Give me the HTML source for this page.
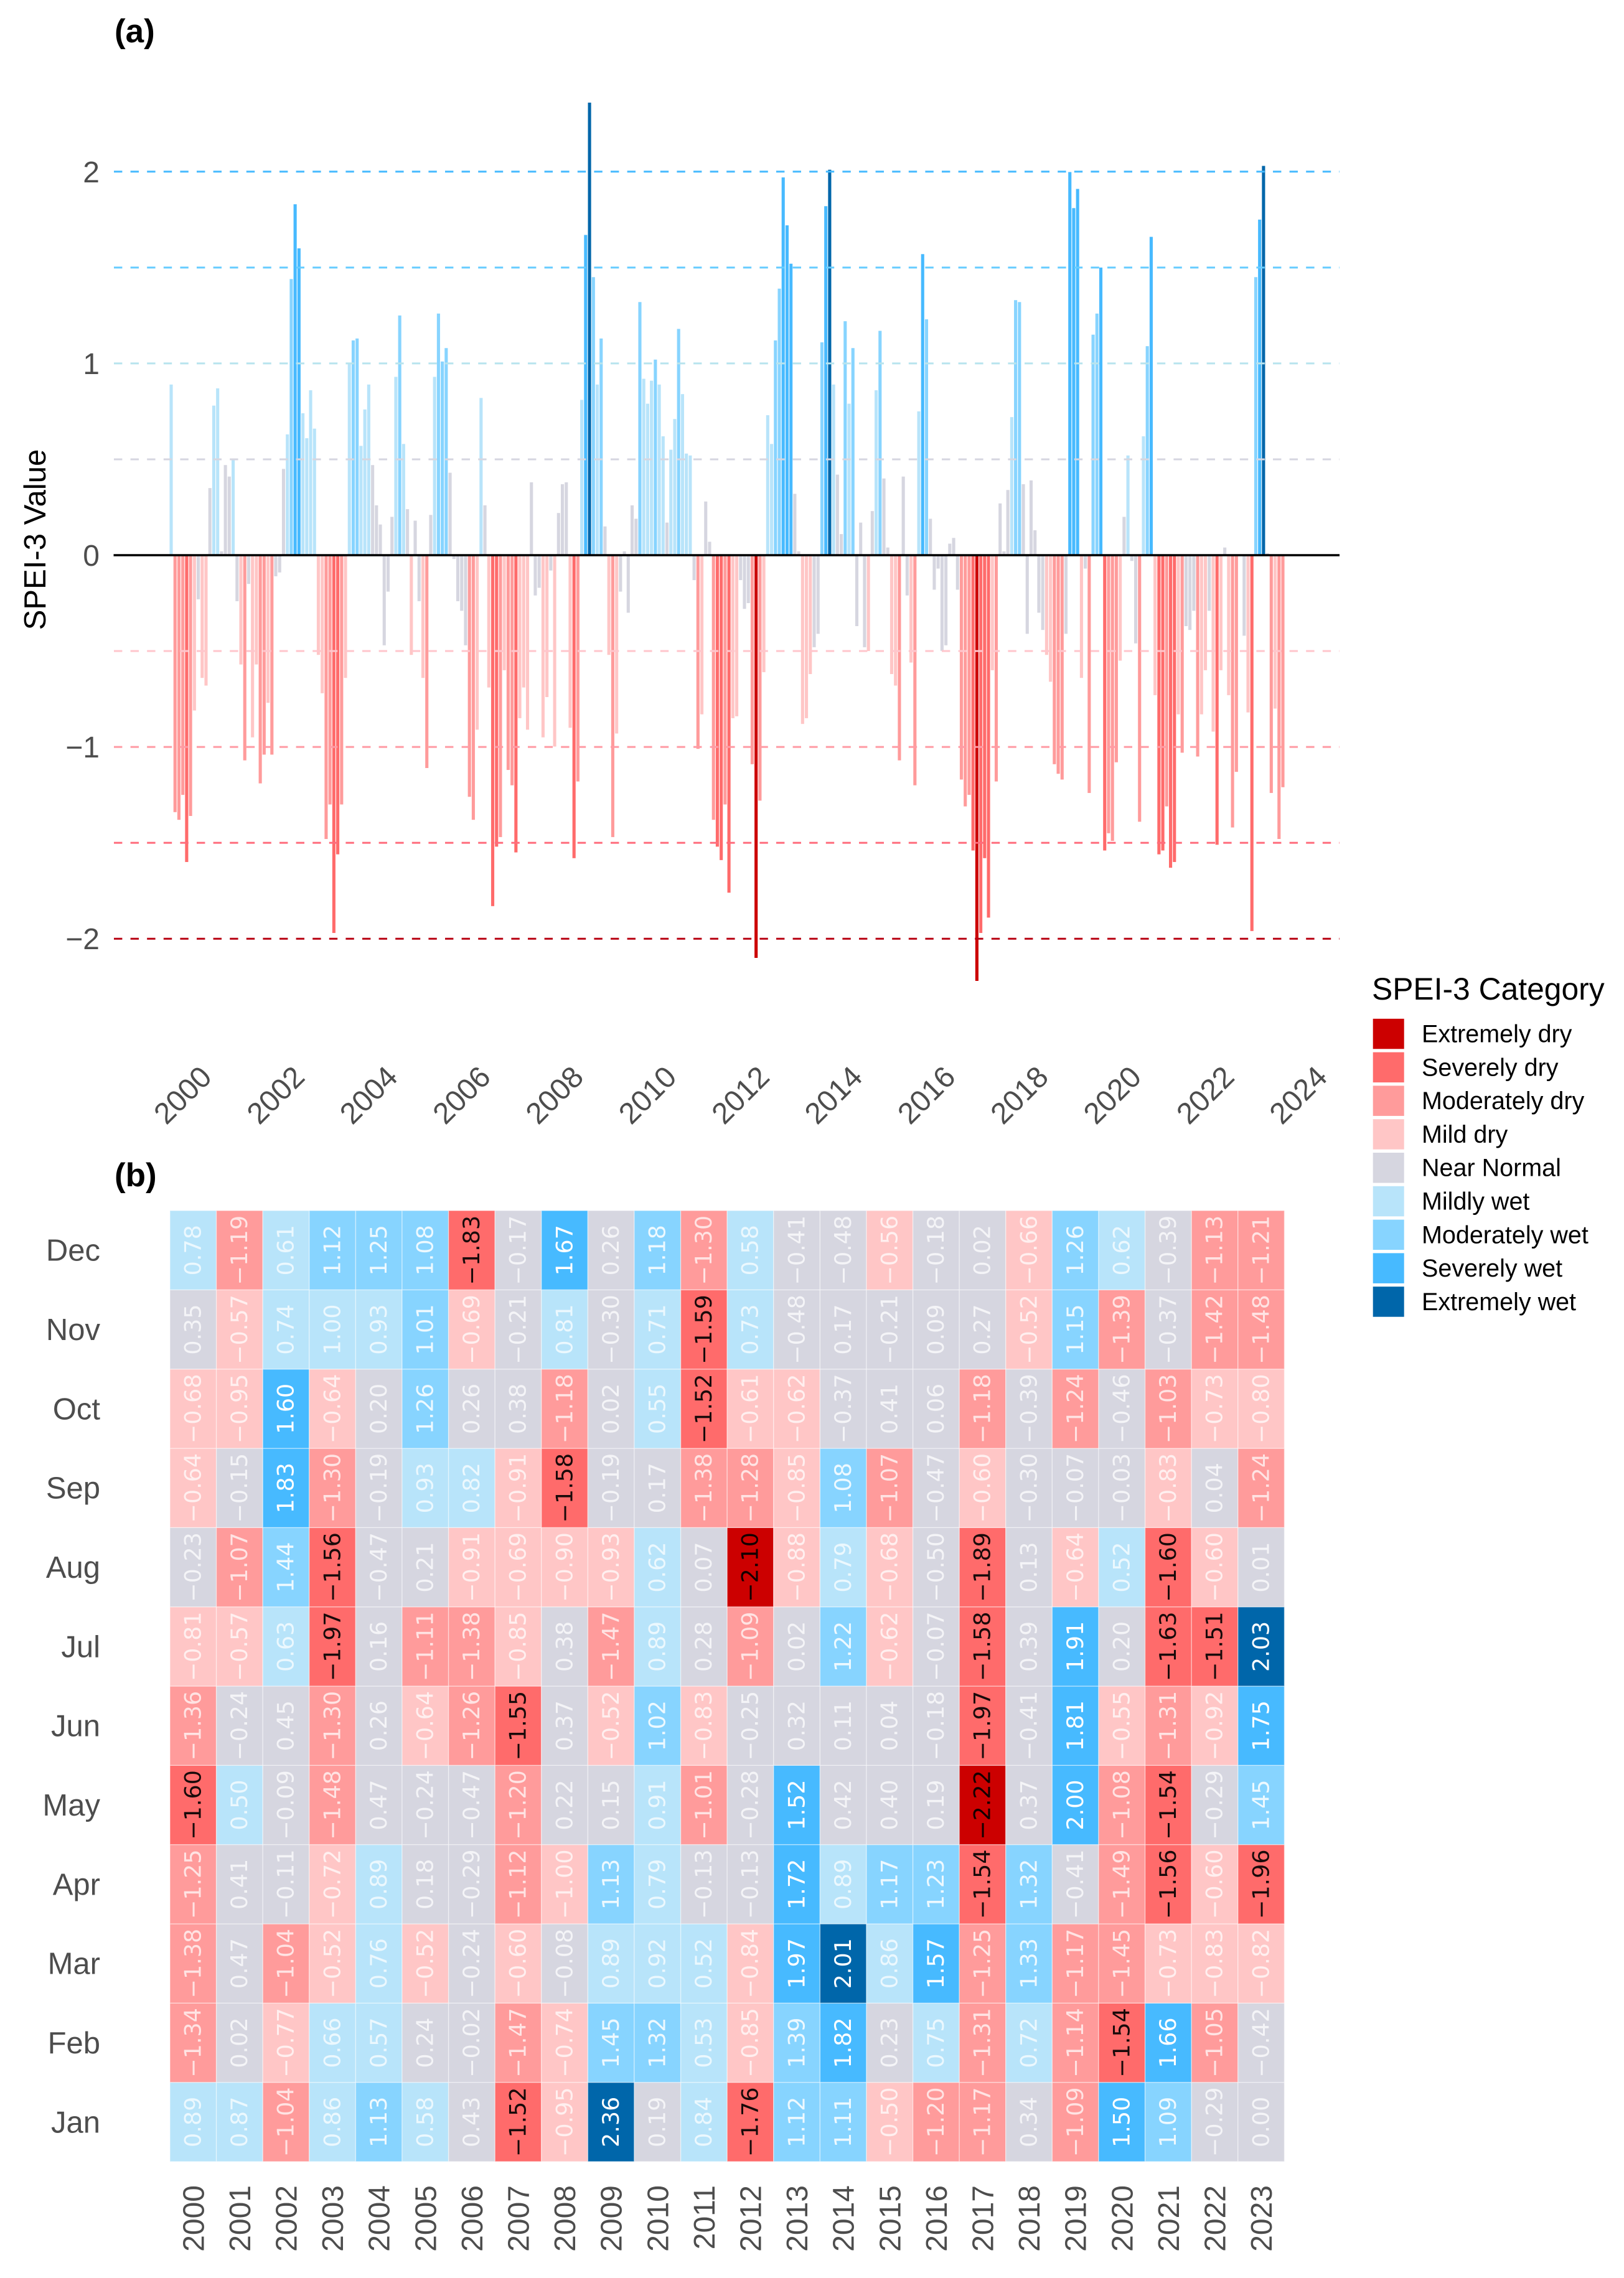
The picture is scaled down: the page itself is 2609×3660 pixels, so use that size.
<!DOCTYPE html>
<html lang="en">
<head>
<meta charset="utf-8">
<title>SPEI-3 time series and monthly heatmap</title>
<style>
html,body{margin:0;padding:0;background:#fff;}
body{width:2609px;height:3660px;overflow:hidden;}
svg{display:block;}
text{font-family:"Liberation Sans",Arial,sans-serif;}
</style>
</head>
<body>
<svg id="figure" xmlns="http://www.w3.org/2000/svg" width="2609" height="3660" viewBox="0 0 2609 3660">
  <rect x="0" y="0" width="2609" height="3660" fill="#ffffff"/>
  <text x="184" y="68" font-size="53" font-weight="700" fill="#000">(a)</text>
  <text x="184" y="1906" font-size="53" font-weight="700" fill="#000">(b)</text>
  <text transform="translate(73,867) rotate(-90)" text-anchor="middle" font-size="49" fill="#000">SPEI-3 Value</text>
  <g id="bars"></g>
  <g id="refLines"></g>
  <line x1="182.5" x2="2152" y1="892" y2="892" stroke="#000" stroke-width="3.6"/>
  <g id="yTicks"></g>
  <g id="xTicks"></g>
  <g id="heatmap"></g>
  <g id="monthAxis"></g>
  <g id="yearAxis"></g>
  <g id="legend"></g>
</svg>
<script>
const years = [2000,2001,2002,2003,2004,2005,2006,2007,2008,2009,2010,2011,2012,2013,2014,2015,2016,2017,2018,2019,2020,2021,2022,2023];
const months = ["Jan","Feb","Mar","Apr","May","Jun","Jul","Aug","Sep","Oct","Nov","Dec"];
const jan = [0.89,0.87,-1.04,0.86,1.13,0.58,0.43,-1.52,-0.95,2.36,0.19,0.84,-1.76,1.12,1.11,-0.50,-1.20,-1.17,0.34,-1.09,1.50,1.09,-0.29,0.00];
const feb = [-1.34,0.02,-0.77,0.66,0.57,0.24,-0.02,-1.47,-0.74,1.45,1.32,0.53,-0.85,1.39,1.82,0.23,0.75,-1.31,0.72,-1.14,-1.54,1.66,-1.05,-0.42];
const mar = [-1.38,0.47,-1.04,-0.52,0.76,-0.52,-0.24,-0.60,-0.08,0.89,0.92,0.52,-0.84,1.97,2.01,0.86,1.57,-1.25,1.33,-1.17,-1.45,-0.73,-0.83,-0.82];
const apr = [-1.25,0.41,-0.11,-0.72,0.89,0.18,-0.29,-1.12,-0.998,1.13,0.79,-0.13,-0.13,1.72,0.89,1.17,1.23,-1.54,1.32,-0.41,-1.49,-1.56,-0.60,-1.96];
const may = [-1.60,0.50,-0.09,-1.48,0.47,-0.24,-0.47,-1.20,0.22,0.15,0.91,-1.01,-0.28,1.52,0.42,0.40,0.19,-2.22,0.37,1.998,-1.08,-1.54,-0.29,1.45];
const jun = [-1.36,-0.24,0.45,-1.30,0.26,-0.64,-1.26,-1.55,0.37,-0.52,1.02,-0.83,-0.25,0.32,0.11,0.04,-0.18,-1.97,-0.41,1.81,-0.55,-1.31,-0.92,1.75];
const jul = [-0.81,-0.57,0.63,-1.97,0.16,-1.11,-1.38,-0.85,0.38,-1.47,0.89,0.28,-1.09,0.02,1.22,-0.62,-0.07,-1.58,0.39,1.91,0.20,-1.63,-1.51,2.03];
const aug = [-0.23,-1.07,1.44,-1.56,-0.47,0.21,-0.91,-0.69,-0.90,-0.93,0.62,0.07,-2.10,-0.88,0.79,-0.68,-0.499,-1.89,0.13,-0.64,0.52,-1.60,-0.60,0.01];
const sep = [-0.64,-0.15,1.83,-1.30,-0.19,0.93,0.82,-0.91,-1.58,-0.19,0.17,-1.38,-1.28,-0.85,1.08,-1.07,-0.47,-0.60,-0.30,-0.07,-0.03,-0.83,0.04,-1.24];
const oct = [-0.68,-0.95,1.60,-0.64,0.20,1.26,0.26,0.38,-1.18,0.02,0.55,-1.52,-0.61,-0.62,-0.37,0.41,0.06,-1.18,-0.39,-1.24,-0.46,-1.03,-0.73,-0.80];
const nov = [0.35,-0.57,0.74,0.998,0.93,1.01,-0.69,-0.21,0.81,-0.30,0.71,-1.59,0.73,-0.48,0.17,-0.21,0.09,0.27,-0.52,1.15,-1.39,-0.37,-1.42,-1.48];
const dec = [0.78,-1.19,0.61,1.12,1.25,1.08,-1.83,-0.17,1.67,0.26,1.18,-1.30,0.58,-0.41,-0.48,-0.56,-0.18,0.02,-0.66,1.26,0.62,-0.39,-1.13,-1.21];
const monthSeries = [jan,feb,mar,apr,may,jun,jul,aug,sep,oct,nov,dec];
const yTickValues = [-2,-1,0,1,2];
const thresholdValues = [-2,-1.5,-1,-0.5,0.5,1,1.5,2];
const xTickYears = [2000,2002,2004,2006,2008,2010,2012,2014,2016,2018,2020,2022,2024];
const categoryNames = ["Extremely dry","Severely dry","Moderately dry","Mild dry","Near Normal","Mildly wet","Moderately wet","Severely wet","Extremely wet"];
const categoryColors = ["#cc0000","#ff6b6b","#ff9b9b","#ffc6c6","#d6d6e0","#b8e4fa","#87d4ff","#47baff","#0066aa"];
const thresholdColors = ["#b80012","#ff6b7b","#ff9ba4","#ffc6cc","#d6d6e0","#b8e4ee","#66ccff","#47baff"];

const SVGNS = "http://www.w3.org/2000/svg";
function mk(tag, parent){
  const el = document.createElementNS(SVGNS, tag);
  parent.appendChild(el);
  return el;
}
function setA(el, key, val){ el.setAttribute(key, val); }

// scales
function yBar(v){ return 892 - v * 308.1; }
function xMonth(yearValue, monthIdx){ return 275 + ((yearValue - 2000) * 12 + monthIdx) * 6.2230; }
function xCell(i){ return 273 + i * 74.6; }
function yCell(r){ return 1945 + (11 - r) * 127.33; }
function catIndex(v){
  if (v < -2) return 0;
  if (v <= -1.5) return 1;
  if (v <= -1) return 2;
  if (v <= -0.5) return 3;
  if (v < 0.5) return 4;
  if (v < 1) return 5;
  if (v < 1.5) return 6;
  if (v < 2) return 7;
  return 8;
}
function fmt(v){
  const s = Math.abs(v).toFixed(2);
  return v < 0 ? "\u2212" + s : s;
}

// bars (panel a)
const barsG = document.getElementById("bars");
years.forEach(function(yr, yi){
  monthSeries.forEach(function(series, mi){
    const v = series[yi];
    const b = mk("rect", barsG);
    
    
    setA(b, "x", xMonth(yr, mi) - 2.55);
    setA(b, "width", 5.1);
    setA(b, "y", Math.min(yBar(v), yBar(0)));
    setA(b, "height", Math.abs(yBar(v) - yBar(0)));
    setA(b, "fill", categoryColors[catIndex(v)]);
  });
});

// threshold lines
const refG = document.getElementById("refLines");
thresholdValues.forEach(function(t, i){
  const l = mk("line", refG);
  
  
  setA(l, "x1", 183);
  setA(l, "x2", 2152);
  setA(l, "y1", yBar(t));
  setA(l, "y2", yBar(t));
  setA(l, "stroke", thresholdColors[i]);
  setA(l, "stroke-width", 3);
  setA(l, "stroke-dasharray", "13.4 13.2");
});

// y ticks
const yG = document.getElementById("yTicks");
yTickValues.forEach(function(t){
  const e = mk("text", yG);
  
  
  setA(e, "x", 160);
  setA(e, "y", yBar(t) + 17);
  setA(e, "text-anchor", "end");
  setA(e, "font-size", 48);
  setA(e, "fill", "#4d4d4d");
  e.textContent = t < 0 ? "\u2212" + Math.abs(t) : String(t);
});

// x ticks
const xG = document.getElementById("xTicks");
xTickYears.forEach(function(yr){
  const e = mk("text", xG);
  
  
  setA(e, "transform", "translate(" + (xMonth(yr, 0) + 18) + ",1759) rotate(-45)");
  setA(e, "y", 17);
  setA(e, "text-anchor", "middle");
  setA(e, "font-size", 48);
  setA(e, "fill", "#4d4d4d");
  e.textContent = String(yr);
});

// heatmap (panel b)
const hm = document.getElementById("heatmap");
years.forEach(function(yr, yi){
  monthSeries.forEach(function(series, mi){
    const v = series[yi];
    const c = catIndex(v);
    const r = mk("rect", hm);
    
    
    setA(r, "x", xCell(yi));
    setA(r, "y", yCell(mi));
    setA(r, "width", 74.6);
    setA(r, "height", 127.33);
    setA(r, "fill", categoryColors[c]);
    setA(r, "stroke", "rgba(255,255,255,0.45)");
    setA(r, "stroke-width", 1.4);
  });
});
years.forEach(function(yr, yi){
  monthSeries.forEach(function(series, mi){
    const v = series[yi];
    const c = catIndex(v);
    const t = mk("text", hm);
    
    
    setA(t, "transform", "translate(" + (xCell(yi) + 36.3) + "," + (yCell(mi) + 63.7) + ") rotate(-90)");
    setA(t, "y", 13.2);
    setA(t, "text-anchor", "middle");
    setA(t, "font-size", 36.5);
    setA(t, "style", "font-family:'DejaVu Sans',sans-serif");
    setA(t, "fill", c <= 1 ? "#000000" : "#ffffff");
    setA(t, "fill-opacity", c <= 1 ? 0.9 : (c >= 7 ? 1 : (c === 6 ? 0.85 : 0.72)));
    t.textContent = fmt(v);
  });
});

// month axis
const mAxis = document.getElementById("monthAxis");
months.forEach(function(name, mi){
  const e = mk("text", mAxis);
  
  
  setA(e, "x", 161);
  setA(e, "y", yCell(mi) + 63.7 + 17);
  setA(e, "text-anchor", "end");
  setA(e, "font-size", 49);
  setA(e, "fill", "#4d4d4d");
  e.textContent = name;
});

// year axis
const yrAxis = document.getElementById("yearAxis");
years.forEach(function(yr, yi){
  const e = mk("text", yrAxis);
  
  
  setA(e, "transform", "translate(" + (xCell(yi) + 37.3 + 17) + ",3511) rotate(-90)");
  setA(e, "text-anchor", "end");
  setA(e, "font-size", 48);
  setA(e, "fill", "#4d4d4d");
  e.textContent = String(yr);
});

// legend
const lg = document.getElementById("legend");
const lgTitle = mk("text", lg);


setA(lgTitle, "x", 2204);
setA(lgTitle, "y", 1606);
setA(lgTitle, "font-size", 49.8);
setA(lgTitle, "fill", "#000");
lgTitle.textContent = "SPEI-3 Category";
categoryNames.forEach(function(name, i){
  const s = mk("rect", lg);
  
  
  setA(s, "x", 2205.7);
  setA(s, "y", 1636.8 + i * 53.8);
  setA(s, "width", 50);
  setA(s, "height", 48.5);
  setA(s, "fill", categoryColors[i]);
  const t = mk("text", lg);
  
  
  setA(t, "x", 2284);
  setA(t, "y", 1674.5 + i * 53.8);
  setA(t, "font-size", 39.5);
  setA(t, "fill", "#000");
  t.textContent = name;
});
</script>
</body>
</html>
